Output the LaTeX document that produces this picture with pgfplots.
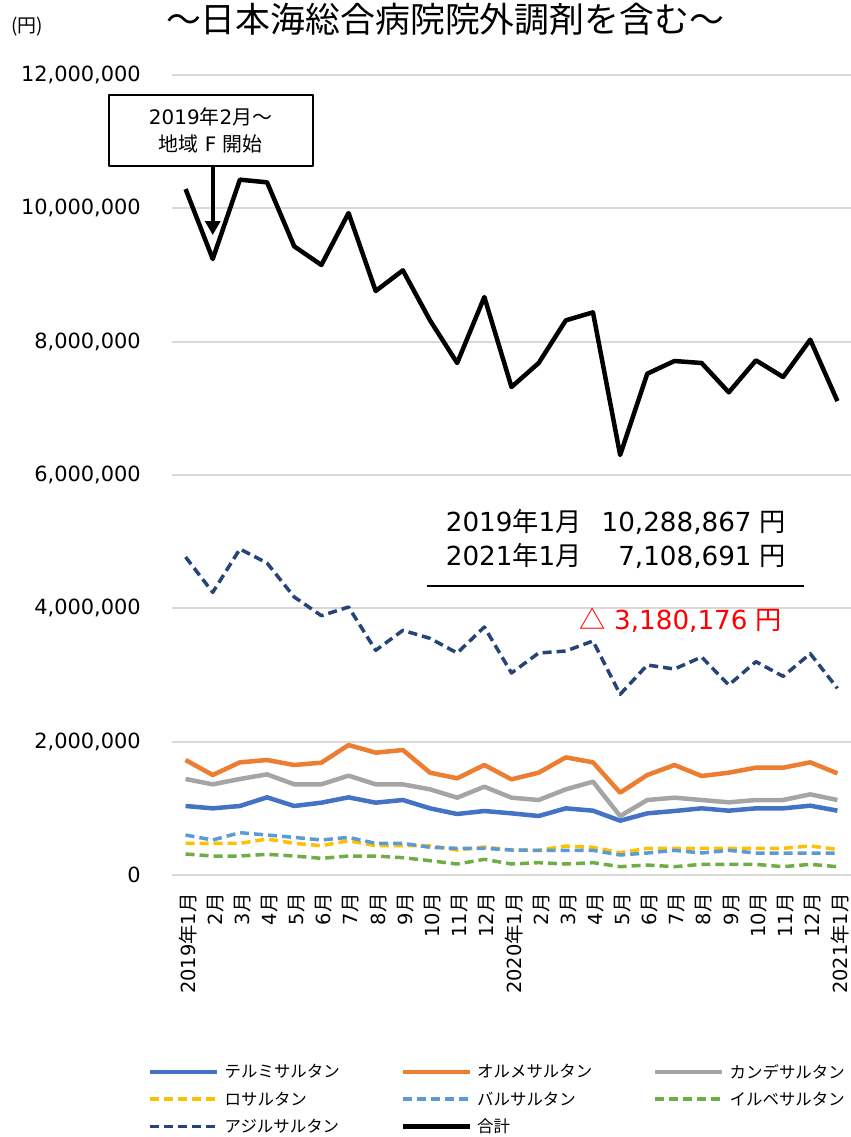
\documentclass[border=0pt]{standalone}
\usepackage{fontspec}
\setmainfont{DejaVu Sans}
\newfontfamily\cjk{Noto Sans CJK JP}
\usepackage{pgfplots}
\pgfplotsset{compat=1.18}
\usepackage{pgfplotstable}
\usetikzlibrary{arrows.meta}
\newcommand\J[1]{{\cjk #1}}
\definecolor{cTel}{HTML}{4472C4}
\definecolor{cOlm}{HTML}{ED7D31}
\definecolor{cCan}{HTML}{A5A5A5}
\definecolor{cLos}{HTML}{FFC000}
\definecolor{cVal}{HTML}{5B9BD5}
\definecolor{cIrb}{HTML}{70AD47}
\definecolor{cAzi}{HTML}{264478}
\definecolor{cGrid}{HTML}{D9D9D9}

\pgfplotstableread{
x telmi olme cande losar valsar irbe azil total
0  1035000 1725000 1440000 475000 600000 315000 4770000 10288867
1  1000000 1500000 1360000 475000 525000 285000 4240000 9240000
2  1035000 1690000 1440000 475000 635000 285000 4890000 10430000
3  1165000 1725000 1510000 540000 600000 310000 4680000 10390000
4  1035000 1650000 1360000 475000 565000 285000 4170000 9430000
5  1085000 1685000 1360000 440000 525000 250000 3890000 9150000
6  1165000 1950000 1490000 515000 565000 285000 4020000 9930000
7  1085000 1835000 1360000 440000 475000 285000 3370000 8760000
8  1125000 1875000 1360000 440000 475000 260000 3670000 9070000
9  1000000 1535000 1285000 440000 415000 215000 3550000 8320000
10 915000  1450000 1160000 375000 400000 165000 3330000 7680000
11 960000  1650000 1325000 420000 400000 235000 3720000 8670000
12 925000  1435000 1160000 375000 375000 165000 3030000 7320000
13 885000  1535000 1125000 370000 370000 185000 3330000 7680000
14 1000000 1765000 1285000 435000 370000 165000 3360000 8320000
15 965000  1690000 1400000 415000 370000 185000 3510000 8440000
16 815000  1235000 885000  335000 300000 125000 2710000 6300000
17 925000  1500000 1125000 400000 330000 150000 3150000 7520000
18 960000  1650000 1160000 400000 370000 125000 3090000 7710000
19 1000000 1485000 1125000 400000 330000 160000 3270000 7680000
20 965000  1535000 1090000 400000 370000 160000 2850000 7240000
21 1000000 1610000 1125000 400000 330000 160000 3200000 7720000
22 1000000 1610000 1125000 400000 330000 125000 2980000 7470000
23 1040000 1690000 1210000 435000 330000 160000 3320000 8030000
24 965000  1525000 1125000 385000 330000 125000 2800000 7108691
}\datatable

\begin{document}
\begin{tikzpicture}
\begin{axis}[
  at={(172bp,-875bp)}, anchor=south west,
  width=679bp, height=800bp, scale only axis,
  xmin=-0.5, xmax=24.5, ymin=0, ymax=12000000,
  ytick={0,2000000,4000000,6000000,8000000,10000000,12000000},
  scaled y ticks=false,
  yticklabel style={/pgf/number format/fixed, /pgf/number format/1000 sep={,},
    /pgf/number format/assume math mode=true,
    font=\fontsize{21}{21}\selectfont, inner sep=0pt},
  yticklabel shift=31bp,
  xtick={0,...,24},
  xticklabels={2019\J{年}1\J{月},2\J{月},3\J{月},4\J{月},5\J{月},6\J{月},7\J{月},8\J{月},9\J{月},10\J{月},11\J{月},12\J{月},
    2020\J{年}1\J{月},2\J{月},3\J{月},4\J{月},5\J{月},6\J{月},7\J{月},8\J{月},9\J{月},10\J{月},11\J{月},12\J{月},2021\J{年}1\J{月}},
  xticklabel style={xshift=2.5bp, font=\fontsize{19.5}{19.5}\selectfont, inner sep=0pt, rotate=90, anchor=east},
  xticklabel shift=18bp,
  axis line style={draw=none},
  major tick style={draw=none},
  ymajorgrids, grid style={draw=cGrid, line width=1.8bp},
  clip=false,
  line join=round,
  legend columns=3,
  legend cell align=left,
  legend image code/.code={\draw[#1] (0bp,0bp) -- (67bp,0bp);},
  legend style={at={(-0.0353,-0.2363)}, anchor=north west, draw=none, fill=none,
    inner sep=0pt, row sep=12bp, column sep=0pt,
    font=\cjk\fontsize{16.5}{16.5}\selectfont,
    nodes={inner sep=0pt}},
]
\addplot[cTel, line width=4.5bp] table[x=x,y=telmi]{\datatable};
\addlegendentry{\hspace*{5bp}\makebox[176bp][l]{テルミサルタン}}
\addplot[cOlm, line width=4.5bp] table[x=x,y=olme]{\datatable};
\addlegendentry{\hspace*{5bp}\makebox[176bp][l]{オルメサルタン}}
\addplot[cCan, line width=4.5bp] table[x=x,y=cande]{\datatable};
\addlegendentry{\hspace*{5bp}\makebox[176bp][l]{カンデサルタン}}
\addplot[cLos, line width=3.5bp, line cap=butt, dash pattern=on 9bp off 5bp] table[x=x,y=losar]{\datatable};
\addlegendentry{\hspace*{5bp}\makebox[176bp][l]{ロサルタン}}
\addplot[cVal, line width=3.5bp, line cap=butt, dash pattern=on 9bp off 5bp] table[x=x,y=valsar]{\datatable};
\addlegendentry{\hspace*{5bp}\makebox[176bp][l]{バルサルタン}}
\addplot[cIrb, line width=3.5bp, line cap=butt, dash pattern=on 9bp off 5bp] table[x=x,y=irbe]{\datatable};
\addlegendentry{\hspace*{5bp}\makebox[176bp][l]{イルベサルタン}}
\addplot[cAzi, line width=3.5bp, line cap=butt, dash pattern=on 9bp off 5bp] table[x=x,y=azil]{\datatable};
\addlegendentry{\hspace*{5bp}\makebox[176bp][l]{アジルサルタン}}
\addplot[black, line width=4.5bp] table[x=x,y=total]{\datatable};
\addlegendentry{\hspace*{5bp}\makebox[176bp][l]{合計}}

% annotation box and arrow
\node[draw=black, line width=2bp, fill=white, minimum width=204bp, minimum height=71bp,
  align=center, inner sep=0pt, font=\fontsize{20}{27}\selectfont]
  at (axis cs:0.92,11170000) {2019\J{年}2\J{月～}\\\J{地域} F \J{開始}};
\draw[line width=4bp, -{Triangle[width=15bp,length=14bp]}] (axis cs:1,10635000) -- (axis cs:1,9600000);

% summary text
\node[anchor=east, inner sep=0pt] at (axis cs:22.12,5002000)
  {\fontsize{26.3}{34}\selectfont\begin{tabular}{@{}l@{\hspace{20bp}}r@{}}2019\J{年}1\J{月} & 10,288,867 \J{円}\\ 2021\J{年}1\J{月} & 7,108,691 \J{円}\end{tabular}};
\draw[line width=2.5bp] (axis cs:8.907,4335000) -- (axis cs:22.78,4335000);
\node[anchor=east, inner sep=0pt, text=red, font=\fontsize{26.3}{26.3}\selectfont]
  at (axis cs:21.97,3825000) {\J{△} 3,180,176 \J{円}};
\end{axis}
\node[anchor=base, inner sep=0pt, font=\cjk\fontsize{35}{35}\selectfont] at (445bp,-32bp) {～日本海総合病院院外調剤を含む～};
\node[anchor=base, inner sep=0pt, font=\cjk\fontsize{19}{19}\selectfont] at (27bp,-32bp) {(円)};
\pgfresetboundingbox
\path[use as bounding box] (0,0) rectangle (851bp,-1137bp);
\end{tikzpicture}
\end{document}
